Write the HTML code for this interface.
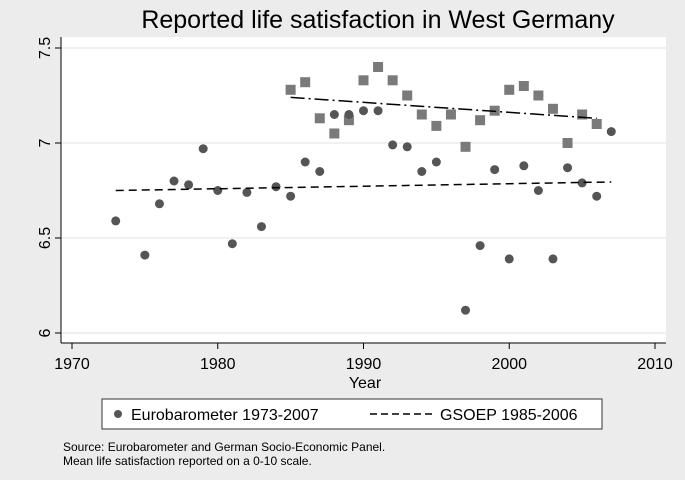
<!DOCTYPE html>
<html><head><meta charset="utf-8"><style>
body{margin:0;background:#ececec;}
svg{display:block;font-family:"Liberation Sans",sans-serif;}
</style></head><body>
<svg id="chart" width="685" height="480">
<rect x="0" y="0" width="685" height="480" fill="#ececec"/>
<text x="378" y="28" font-size="25" text-anchor="middle">Reported life satisfaction in West Germany</text>
<rect x="61" y="37" width="605" height="306" fill="#fff"/>
<g id="grid"></g><g id="axes"></g><g id="marks"></g>
<text x="365" y="388" font-size="16" text-anchor="middle">Year</text>
<g>
<rect x="102" y="399" width="500" height="30" fill="#fff" stroke="#333" stroke-width="1"/>
<circle cx="118" cy="414" r="4" fill="#555"/>
<text x="131" y="420" font-size="16">Eurobarometer 1973-2007</text>
<line x1="370" y1="414" x2="433" y2="414" stroke="#000" stroke-width="1.5" stroke-dasharray="7,4"/>
<text x="440" y="420" font-size="16">GSOEP 1985-2006</text>
</g>
<text x="63" y="451" font-size="12">Source: Eurobarometer and German Socio-Economic Panel.</text>
<text x="63" y="465" font-size="12">Mean life satisfaction reported on a 0-10 scale.</text>
</svg>
<script>
const euroYears=[1973,1975,1976,1977,1978,1979,1980,1981,1982,1983,1984,1985,1986,1987,1988,1989,1990,1991,1992,1993,1994,1995,1997,1998,1999,2000,2001,2002,2003,2004,2005,2006,2007];
const euroValues=[6.59,6.41,6.68,6.80,6.78,6.97,6.75,6.47,6.74,6.56,6.77,6.72,6.90,6.85,7.15,7.15,7.17,7.17,6.99,6.98,6.85,6.90,6.12,6.46,6.86,6.39,6.88,6.75,6.39,6.87,6.79,6.72,7.06];
const gsoepYears=[1985,1986,1987,1988,1989,1990,1991,1992,1993,1994,1995,1996,1997,1998,1999,2000,2001,2002,2003,2004,2005,2006];
const gsoepValues=[7.28,7.32,7.13,7.05,7.12,7.33,7.40,7.33,7.25,7.15,7.09,7.15,6.98,7.12,7.17,7.28,7.30,7.25,7.18,7.00,7.15,7.10];
const euroTrend=[[1973,6.75],[2007,6.795]];
const gsoepTrend=[[1985,7.24],[2006,7.13]];
const xTicks=[1970,1980,1990,2000,2010];
const yTicks=[6,6.5,7,7.5];
const yTickLabels=["6","6.5","7","7.5"];
const NS="http://www.w3.org/2000/svg";
const X=v=>72+(v-1970)*(655-72)/40;
const Y=v=>143-(v-7)*190;
function mk(tag,attrs,parent){const e=document.createElementNS(NS,tag);for(const k in attrs)e.setAttribute(k,attrs[k]);document.getElementById(parent).appendChild(e);return e;}
yTicks.forEach((t,i)=>{
  const g=mk('line',{x1:61,x2:666,y1:Y(t),y2:Y(t),stroke:'#e6e6e6','stroke-width':1.2},'grid');
  
  
  const tk=mk('line',{x1:55,x2:61,y1:Y(t),y2:Y(t),stroke:'#000'},'axes');
  
  
  const tx=mk('text',{x:0,y:0,'font-size':16,'text-anchor':'middle',transform:`translate(50,${Y(t)}) rotate(-90)`},'axes');
  tx.textContent=yTickLabels[i];
  
  
});
xTicks.forEach(t=>{
  const tk=mk('line',{x1:X(t),x2:X(t),y1:343,y2:349,stroke:'#000'},'axes');
  
  
  const tx=mk('text',{x:X(t),y:369,'font-size':16,'text-anchor':'middle'},'axes');
  tx.textContent=t;
  
  
});
const ya=mk('line',{x1:61,x2:61,y1:37,y2:343,stroke:'#000'},'axes');


const xa=mk('line',{x1:61,x2:666,y1:343,y2:343,stroke:'#000'},'axes');


gsoepYears.forEach((yr,i)=>{
  const s=mk('rect',{x:X(yr)-5,y:Y(gsoepValues[i])-5,width:10,height:10,fill:'#7a7a7a'},'marks');
  
  
});
euroYears.forEach((yr,i)=>{
  const c=mk('circle',{cx:X(yr),cy:Y(euroValues[i]),r:4.5,fill:'#555'},'marks');
  
  
});
const l1=mk('line',{x1:X(euroTrend[0][0]),y1:Y(euroTrend[0][1]),x2:X(euroTrend[1][0]),y2:Y(euroTrend[1][1]),stroke:'#000','stroke-width':1.5,'stroke-dasharray':'8,5'},'marks');


const l2=mk('line',{x1:X(gsoepTrend[0][0]),y1:Y(gsoepTrend[0][1]),x2:X(gsoepTrend[1][0]),y2:Y(gsoepTrend[1][1]),stroke:'#000','stroke-width':1.5,'stroke-dasharray':'14,4,2,4'},'marks');


</script>
</body></html>
